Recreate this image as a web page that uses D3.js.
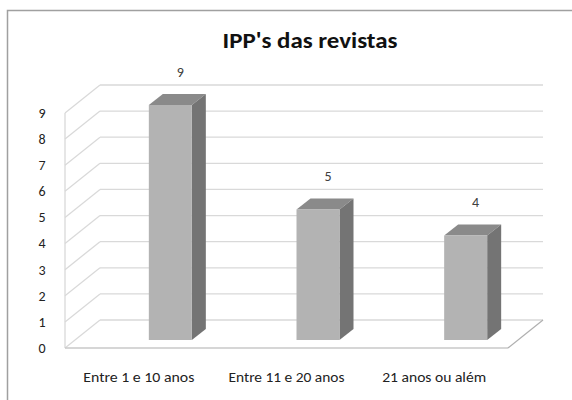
<!DOCTYPE html>
<html><head><meta charset="utf-8">
<script src="https://cdn.jsdelivr.net/npm/d3@7"></script>
<style>body{margin:0;background:#fff}svg{display:block}</style>
</head><body>
<svg id="c" width="572" height="400"></svg>
<script>
const title = "IPP's das revistas";
const categories = ["Entre 1 e 10 anos", "Entre 11 e 20 anos", "21 anos ou além"];
const values = [9, 5, 4];
const yTicks = [0,1,2,3,4,5,6,7,8,9];
const catWidths = [111, 116, 104];

const svg = d3.select("#c");
const font = "Carlito, 'Open Sans', 'Noto Sans', sans-serif";

// outer chart border
svg.append("rect").attr("x",7.5).attr("y",10.5).attr("width",600).attr("height",420)
  .attr("fill","#fff").attr("stroke","#a0a0a0").attr("stroke-width",1.5);

const x = d3.scaleBand().domain(categories).range([65, 508]);
const y = d3.scaleLinear().domain([0, 9]).range([348, 113]);
const yBar = d3.scaleLinear().domain([0, 9]).range([340, 105]);
const dX = 35, dY = -28;           // wall depth
const bW = 43, bdX = 14, bdY = -11; // bar size / depth
const grid = "#d9d9d9";

const g = svg.append("g");
g.selectAll(".bg").data(yTicks).join("line")
  .attr("x1", 65 + dX).attr("x2", 508 + dX)
  .attr("y1", d => y(d) + dY).attr("y2", d => y(d) + dY)
  .attr("stroke", grid).attr("stroke-width", 1.3);
g.selectAll(".sd").data(yTicks).join("line")
  .attr("x1", 65).attr("x2", 65 + dX)
  .attr("y1", d => y(d)).attr("y2", d => y(d) + dY)
  .attr("stroke", grid).attr("stroke-width", 1.3);
g.append("line").attr("x1",65).attr("x2",65).attr("y1",y(9)).attr("y2",y(0))
  .attr("stroke", grid).attr("stroke-width",1.3);
g.append("line").attr("x1",65).attr("x2",508).attr("y1",y(0)).attr("y2",y(0))
  .attr("stroke","#c8c8c8").attr("stroke-width",1.3);
g.append("line").attr("x1",508).attr("x2",508+dX).attr("y1",y(0)).attr("y2",y(0)+dY)
  .attr("stroke","#b0b0b0").attr("stroke-width",1.3);

svg.selectAll(".yt").data(yTicks).join("text")
  .attr("x", 42).attr("y", d => y(d)).attr("dy","0.35em")
  .attr("text-anchor","middle").attr("font-family",font).attr("font-size",14)
  .attr("fill","#222").text(d => d);

const bars = svg.selectAll(".bar").data(categories.map((c,i)=>({c, v: values[i]}))).join("g");
const bx = d => x(d.c) + x.bandwidth()/2 + 10;
bars.append("path").attr("fill","#8a8a8a")
  .attr("d", d => { const l=bx(d), t=yBar(d.v);
    return `M${l},${t}L${l+bW},${t}L${l+bW+bdX},${t+bdY}L${l+bdX},${t+bdY}Z`; });
bars.append("path").attr("fill","#747474")
  .attr("d", d => { const r=bx(d)+bW, t=yBar(d.v), b=yBar(0);
    return `M${r},${t}L${r+bdX},${t+bdY}L${r+bdX},${b+bdY}L${r},${b}Z`; });
bars.append("rect").attr("fill","#b3b3b3")
  .attr("x", bx).attr("y", d => yBar(d.v)).attr("width", bW)
  .attr("height", d => yBar(0) - yBar(d.v));
bars.append("text").attr("x", d => bx(d) + bW/2 + 10).attr("y", d => yBar(d.v) + bdY - 22)
  .attr("dy","0.35em").attr("text-anchor","middle").attr("font-family",font)
  .attr("font-size",14).attr("fill","#404040").text(d => d.v);

svg.selectAll(".xl").data(categories).join("text")
  .attr("x", d => x(d) + x.bandwidth()/2).attr("y", 377).attr("dy","0.35em")
  .attr("text-anchor","middle").attr("font-family",font).attr("font-size",13.5)
  .attr("fill","#222").attr("textLength", (d,i) => catWidths[i])
  .attr("lengthAdjust","spacingAndGlyphs").text(d => d);

svg.append("text").attr("x", 310).attr("y", 48).attr("text-anchor","middle")
  .attr("font-family",font).attr("font-weight","bold").attr("font-size",22)
  .attr("fill","#111").attr("textLength",175).attr("lengthAdjust","spacingAndGlyphs")
  .text(title);
</script>
</body></html>
